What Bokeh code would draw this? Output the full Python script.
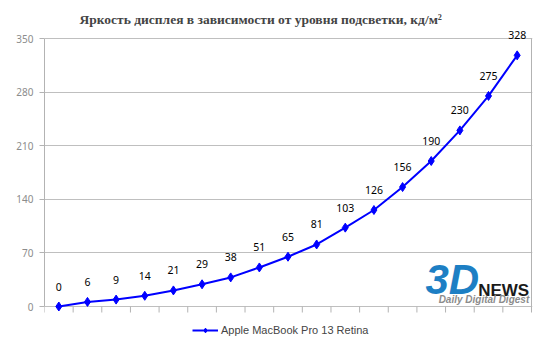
from bokeh.plotting import figure
from bokeh.models import Range1d, FixedTicker, Legend, LegendItem, Label, LabelSet, ColumnDataSource
from bokeh.core.properties import value
from bokeh.embed import file_html
from bokeh.resources import INLINE

levels = list(range(17))
brightness = [0, 6, 9, 14, 21, 29, 38, 51, 65, 81, 103, 126, 156, 190, 230, 275, 328]
labels = [str(v) for v in brightness]
y_ticks = [0, 70, 140, 210, 280, 350]
series_name = "Apple MacBook Pro 13 Retina"
title_text = "Яркость дисплея в зависимости от уровня подсветки, кд/м²"

src = ColumnDataSource(dict(x=levels, y=brightness, t=labels))

Y_MAX = 350
X_LO, X_HI = -0.5, 16.5
U = 350 / 268  # data units per pixel vertically

p = figure(width=534, height=339, output_backend="svg", toolbar_location=None,
           x_range=Range1d(X_LO, X_HI + 0.035), y_range=Range1d(-33 * U, Y_MAX + 10 * U),
           x_axis_location=None,
           min_border_left=44, min_border_right=2, min_border_top=28, min_border_bottom=0)
p.background_fill_color = "white"
p.border_fill_color = "white"
p.outline_line_color = None

p.title.text = title_text
p.title.text_font = "Liberation Serif"
p.title.text_font_size = "13.5px"
p.title.text_font_style = "bold"
p.title.align = "left"
p.title.offset = 35
p.title.standoff = 4

p.xgrid.visible = False

p.yaxis.ticker = FixedTicker(ticks=y_ticks)
p.yaxis.bounds = (0, Y_MAX)
p.yaxis.major_tick_out = 5
p.yaxis.major_tick_in = 0
p.yaxis.minor_tick_out = 0
p.yaxis.minor_tick_in = 0
p.yaxis.axis_line_color = "#b3b3b3"
p.yaxis.major_tick_line_color = "#b3b3b3"
p.yaxis.major_label_text_color = "#8c8c8c"
p.yaxis.major_label_text_font = "Noto Sans"
p.yaxis.major_label_text_font_size = "10px"
p.yaxis.major_label_standoff = 6
p.ygrid.grid_line_color = "#bfbfbf"
p.ygrid.bounds = (X_LO, X_HI)

# category-boundary tick marks below the baseline, and the right border
x_bounds = [i - 0.5 for i in range(18)]
p.segment(x0=x_bounds, y0=[0] * 18, x1=x_bounds, y1=[-6 * U] * 18, line_color="#b3b3b3", line_width=1)
p.segment(x0=[X_HI], y0=[0], x1=[X_HI], y1=[Y_MAX], line_color="#b3b3b3", line_width=1)

ln = p.line("x", "y", source=src, line_color="#0000ff", line_width=2)
sc = p.scatter("x", "y", source=src, marker="diamond", size=9, fill_color="#0000ff", line_color="#0000ff")

p.add_layout(LabelSet(x="x", y="y", text="t", source=src, text_align="center", text_baseline="middle",
                      y_offset=20, text_font=value("Noto Sans"), text_font_size=value("10.5px"),
                      text_color="#000000"))

# 3DNews logo
p.add_layout(Label(x=12.8, y=35, text="3D", text_font="Liberation Sans", text_font_style="bold italic",
                   text_font_size="42px", text_color="#1d7fc4", text_baseline="middle"))
p.add_layout(Label(x=16.42, y=21, text="NEWS", text_font="Liberation Sans", text_font_style="bold",
                   text_font_size="17px", text_color="#1a1a1a", text_align="right", text_baseline="middle"))
p.add_layout(Label(x=16.42, y=9, text="Daily Digital Digest", text_font="Liberation Sans",
                   text_font_style="bold italic", text_font_size="10px", text_color="#8c8c8c",
                   text_align="right", text_baseline="middle"))

legend = Legend(items=[LegendItem(label=series_name, renderers=[ln, sc])],
                location=(148, 3), orientation="horizontal",
                label_text_font="Liberation Sans", label_text_font_size="11px",
                glyph_width=26, glyph_height=12, label_height=12, padding=0, margin=0,
                border_line_alpha=0, background_fill_alpha=0, label_standoff=3)
p.add_layout(legend, "center")

open("out.html", "w").write(file_html(p, INLINE))
